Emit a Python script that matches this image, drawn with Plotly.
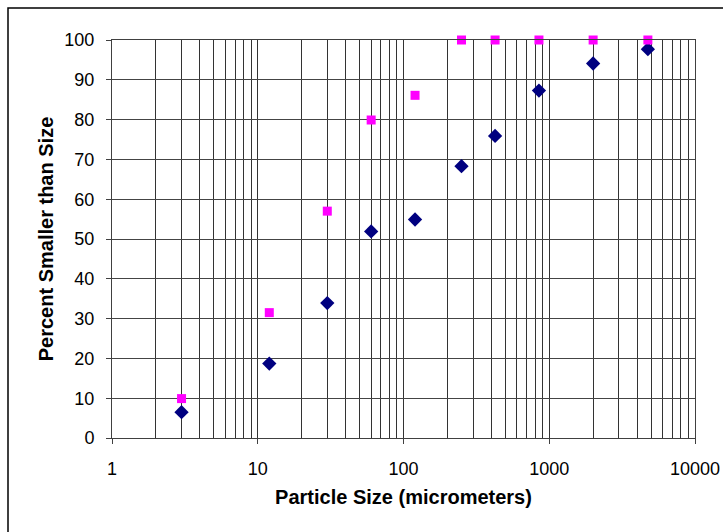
import plotly.graph_objects as go

sizes = [3, 12, 30, 60, 120, 250, 425, 850, 2000, 4750]
series_a = [6.5, 18.7, 33.9, 51.9, 54.9, 68.3, 75.9, 87.3, 94.1, 97.7]
series_b = [9.9, 31.5, 57.0, 79.9, 86.1, 100, 100, 100, 100, 100]

y_ticks = list(range(0, 101, 10))
x_ticks = [1, 10, 100, 1000, 10000]
x_minor = [m * d for d in [1, 10, 100, 1000] for m in range(2, 10)]

fig = go.Figure()
fig.add_trace(go.Scatter(x=sizes, y=series_a, mode="markers",
                         marker=dict(symbol="diamond", color="#000080", size=11),
                         showlegend=False, cliponaxis=False))
fig.add_trace(go.Scatter(x=sizes, y=series_b, mode="markers",
                         marker=dict(symbol="square", color="#FF00FF", size=9),
                         showlegend=False, cliponaxis=False))

fig.update_layout(
    width=723, height=532,
    margin=dict(l=112, r=28, t=40, b=94),
    paper_bgcolor="white", plot_bgcolor="white",
    font=dict(family="Liberation Sans, Arial, sans-serif", color="black", size=18),
    xaxis=dict(type="log", range=[0, 4], tickvals=x_ticks,
               ticktext=[str(v) for v in x_ticks],
               showgrid=True, gridcolor="#333333", gridwidth=1,
               minor=dict(tickvals=x_minor, showgrid=True, gridcolor="#333333", gridwidth=1),
               showline=True, linecolor="#404040", linewidth=1, mirror=True,
               ticks="outside", ticklen=5, tickcolor="#404040",
               ticklabelstandoff=9, automargin=False,
               zeroline=False,
               title=dict(text="<b>Particle Size (micrometers)</b>", font=dict(size=20), standoff=12)),
    yaxis=dict(range=[0, 100], tickvals=y_ticks,
               showgrid=True, gridcolor="#444444", gridwidth=1,
               showline=True, linecolor="#404040", linewidth=1, mirror=True,
               ticks="outside", ticklen=5, tickcolor="#404040",
               ticklabelstandoff=8, automargin=False,
               zeroline=False,
               title=dict(text="<b>Percent Smaller than Size</b>", font=dict(size=20), standoff=5)),
    shapes=[dict(type="rect", xref="paper", yref="paper",
                 x0=(8 - 112) / 583, x1=1.2, y0=-0.4, y1=(438 - 8) / 398,
                 line=dict(color="black", width=1.5), fillcolor="rgba(0,0,0,0)", layer="below")],
)

fig.write_html("out.html")
